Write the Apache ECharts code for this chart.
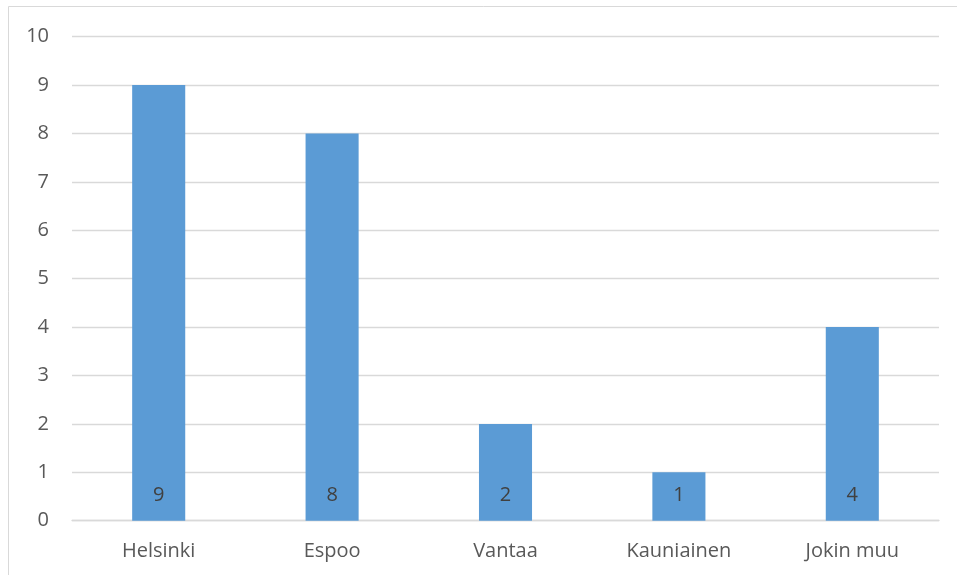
<!DOCTYPE html>
<html><head><meta charset="utf-8">
<script src="https://cdn.jsdelivr.net/npm/echarts@6/dist/echarts.min.js"></script>
<style>html,body{margin:0;padding:0;background:#fff}#c{width:957px;height:575px}</style>
</head><body><div id="c"></div>
<script>
const categories = ["Helsinki", "Espoo", "Vantaa", "Kauniainen", "Jokin muu"];
const values = [9, 8, 2, 1, 4];
const yTicks = [0, 1, 2, 3, 4, 5, 6, 7, 8, 9, 10];

const chart = echarts.init(document.getElementById('c'), null, {renderer: 'canvas'});
const font = '"Open Sans", "Liberation Sans", sans-serif';
chart.setOption({
  animation: false,
  backgroundColor: '#ffffff',
  graphic: [{
    type: 'rect', silent: true,
    shape: {x: 8.5, y: 6.5, width: 1000, height: 700},
    style: {fill: 'none', stroke: '#d9d9d9', lineWidth: 1}
  }],
  grid: {left: 72, right: 18, top: 36.7, bottom: 54.3, containLabel: false},
  xAxis: {
    type: 'category', data: categories,
    axisLine: {lineStyle: {color: '#d9d9d9', width: 1.3}},
    axisTick: {show: false},
    axisLabel: {color: '#595959', fontSize: 20, fontFamily: font, margin: 21}
  },
  yAxis: {
    type: 'value', min: yTicks[0], max: yTicks[yTicks.length - 1], interval: 1,
    axisLine: {show: false}, axisTick: {show: false},
    splitLine: {lineStyle: {color: '#d9d9d9', width: 1.3}},
    axisLabel: {color: '#595959', fontSize: 20, fontFamily: font, margin: 23}
  },
  series: [{
    type: 'bar', data: values, barWidth: '30.6%',
    itemStyle: {color: '#5B9BD5'},
    label: {show: true, position: 'insideBottom', distance: 15, color: '#404040', fontSize: 20, fontFamily: font}
  }]
});
</script></body></html>
